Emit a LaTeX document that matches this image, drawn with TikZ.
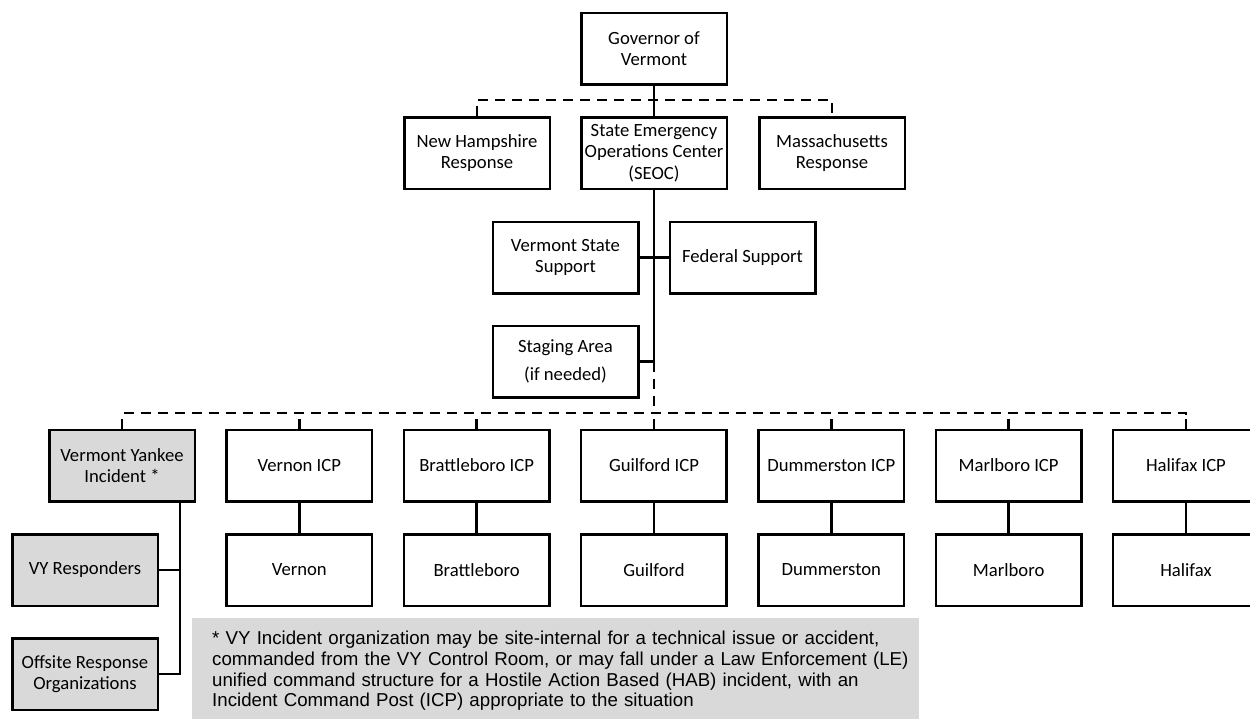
\documentclass[tikz,border=0pt]{standalone}
\usepackage{fontspec}
\setmainfont{Carlito}
\newfontfamily\notefont{Liberation Sans}
\usepackage{tikz}
\usetikzlibrary{calc}

\definecolor{shade}{HTML}{D9D9D9}

\tikzset{
  unit/.style={draw, line width=2.5pt, minimum width=145.5pt, minimum height=71.5pt,
    inner sep=2pt, align=center, font=\fontsize{18.67}{21.5}\selectfont},
  vyunit/.style={unit, fill=shade},
  link/.style={line width=2.5pt},
  dashlink/.style={line width=2.5pt, dash pattern=on 10pt off 7pt},
  note/.style={fill=shade, anchor=north west, text width=687pt, inner xsep=20pt,
    inner ysep=13pt, minimum height=100pt, align=left,
    font=\notefont\fontsize{18.67}{20.7}\selectfont}
}

\begin{document}
\begin{tikzpicture}[x=1pt,y=-1pt]
  \useasboundingbox (0,0) rectangle (1250,718);
  \clip (0,0) rectangle (1250,718);

  % state level
  \node[unit] (gov) at (654,48.5) {Governor of\\Vermont};
  \node[unit] (nh) at (477,153) {New Hampshire\\Response};
  \node[unit] (seoc) at (654,153) {State Emergency\\Operations Center\\(SEOC)};
  \node[unit] (mass) at (832,153) {Massachusetts\\Response};
  \node[unit] (state) at (565.5,257.5) {Vermont State\\Support};
  \node[unit] (federal) at (742.5,257.5) {Federal Support};
  \node[unit] (staging) at (565.5,361.5) {Staging Area\\[6.5pt](if needed)};

  \coordinate (topbus) at (654,100);
  \coordinate (bus) at (654,413);
  \coordinate (spine) at (180,0);

  \draw[dashlink] (nh.north) -- (nh.north |- topbus) -- (mass.north |- topbus) -- (mass.north);
  \draw[link] (gov) -- (seoc);
  \draw[link] (state) -- (federal);
  \draw[link] (seoc.south) |- (staging.east);
  \draw[dashlink] (seoc.south |- staging.east) -- (seoc.south |- bus);

  % incident site
  \node[vyunit] (vy) at (122,465.5) {Vermont Yankee\\Incident *};
  \node[vyunit] (vyresp) at (85,570) {VY Responders};
  \node[vyunit] (offsite) at (85,674) {Offsite Response\\Organizations};
  \draw[link] (vy.south -| spine) |- (offsite.east);
  \draw[link] (vyresp.east) -- (vyresp.east -| spine);

  % town ICPs
  \foreach \town [count=\i] in {Vernon,Brattleboro,Guilford,Dummerston,Marlboro,Halifax} {
    \node[unit] (icp\i) at ({122+177.33*\i},465.5) {\town\ ICP};
    \node[unit] (town\i) at ({122+177.33*\i},570) {\town};
    \draw[link] (icp\i) -- (town\i);
    \draw[dashlink] (icp\i.north) -- (icp\i.north |- bus);
  }
  \draw[dashlink] (vy.north) -- (vy.north |- bus) -- (icp6.north |- bus) -- (icp6.north);

  \node[note] (footnote) at (192,618) {\mbox{* VY Incident organization may be site-internal for a technical issue or accident,}\\
    \mbox{commanded from the VY Control Room, or may fall under a Law Enforcement (LE)}\\
    \mbox{unified command structure for a Hostile Action Based (HAB) incident, with an}\\
    \mbox{Incident Command Post (ICP) appropriate to the situation}};
\end{tikzpicture}
\end{document}
